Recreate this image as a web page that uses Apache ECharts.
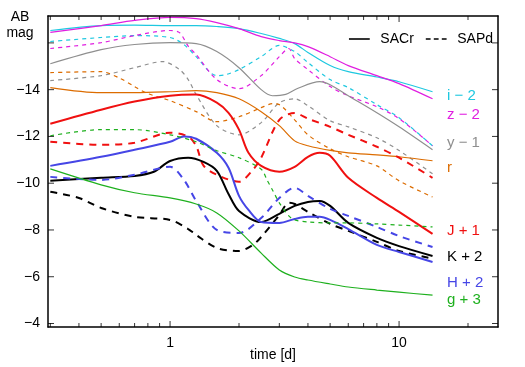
<!DOCTYPE html>
<html>
<head>
<meta charset="utf-8">
<script src="https://cdn.jsdelivr.net/npm/echarts@6/dist/echarts.min.js"></script>
<style>
  html, body { margin: 0; padding: 0; background: #fff; }
  #chart { width: 525px; height: 367px; }
</style>
</head>
<body>
<div id="chart"></div>
<script>
// [time in days, AB mag incl. band offset]
const sacrI = [[0.3,-16.53],[0.5,-16.74],[0.7,-16.76],[1,-16.74],[1.3,-16.74],[1.6,-16.7],[2,-16.61],[2.5,-16.4],[3,-16.19],[3.5,-15.97],[4,-15.59],[5,-15.03],[6,-14.77],[8,-14.54],[10,-14.34],[14,-13.91]]
const sacrZ = [[0.3,-16.45],[0.5,-16.74],[0.7,-16.96],[1,-17.09],[1.3,-17.04],[1.6,-16.87],[2,-16.61],[2.5,-16.27],[3,-16.1],[3.5,-16.0],[4,-15.84],[5,-15.41],[6,-15.03],[8,-14.6],[10,-14.26],[14,-13.61]]
const sacrY = [[0.3,-15.11],[0.5,-15.71],[0.7,-15.93],[1,-16.01],[1.3,-15.97],[1.6,-15.63],[2,-14.94],[2.5,-14.0],[2.8,-13.74],[3.2,-13.8],[3.6,-14.05],[4.5,-14.34],[5,-14.21],[6,-13.74],[8,-13.01],[10,-12.41],[14,-11.43]]
const sacrR = [[0.3,-14.09],[0.5,-13.87],[0.7,-13.87],[1,-13.91],[1.3,-13.96],[1.6,-13.87],[2,-13.61],[2.5,-13.06],[3,-12.46],[3.5,-11.81],[4,-11.6],[5,-11.4],[6,-11.3],[8,-11.21],[10,-11.13],[14,-10.96]]
const sacrJ = [[0.3,-12.54],[0.5,-13.14],[0.7,-13.49],[1,-13.74],[1.3,-13.79],[1.6,-13.45],[1.8,-13.01],[2,-12.29],[2.2,-11.3],[2.5,-10.74],[3,-10.49],[3.5,-10.7],[4,-11.13],[4.5,-11.3],[5,-11.17],[6,-10.23],[8,-9.37],[10,-8.77],[14,-7.83]]
const sacrK = [[0.3,-10.1],[0.5,-10.23],[0.7,-10.31],[0.85,-10.49],[1,-10.95],[1.2,-11.09],[1.4,-10.91],[1.6,-10.53],[1.8,-9.54],[2,-8.81],[2.5,-8.34],[3,-8.69],[3.5,-9.03],[4,-9.2],[4.5,-9.24],[5,-9.03],[6,-8.3],[8,-7.66],[10,-7.31],[14,-6.89]]
const sacrH = [[0.3,-10.74],[0.5,-11.13],[0.7,-11.43],[1,-11.77],[1.15,-12.0],[1.3,-11.9],[1.6,-11.3],[1.8,-10.66],[2,-9.46],[2.2,-8.86],[2.5,-8.34],[3,-8.3],[3.5,-8.47],[4,-8.56],[4.5,-8.56],[5,-8.43],[6,-8.04],[8,-7.36],[10,-7.06],[14,-6.63]]
const sacrG = [[0.3,-10.61],[0.5,-9.93],[0.7,-9.59],[1,-9.37],[1.3,-9.11],[1.6,-8.73],[2,-7.96],[2.5,-7.01],[3,-6.29],[3.5,-5.99],[4,-5.86],[5,-5.69],[6,-5.56],[8,-5.43],[10,-5.34],[14,-5.21]]

const sapdI = [[0.3,-16.06],[0.5,-16.23],[0.7,-16.31],[1,-16.23],[1.15,-15.93],[1.3,-15.41],[1.6,-14.6],[1.75,-14.64],[2,-14.86],[2.5,-15.41],[3,-15.89],[3.5,-15.63],[4,-15.16],[5,-14.43],[6,-14.09],[8,-13.36],[10,-12.8],[14,-11.6]]
const sapdZ = [[0.3,-15.76],[0.5,-16.01],[0.7,-16.31],[1,-16.53],[1.1,-16.44],[1.2,-15.86],[1.3,-15.5],[1.6,-14.43],[2,-14.04],[2.5,-14.6],[3,-15.41],[3.3,-15.76],[3.5,-15.33],[4,-14.86],[5,-14.13],[6,-13.74],[8,-13.27],[10,-12.76],[14,-11.6]]
const sapdY = [[0.3,-14.39],[0.5,-14.6],[0.7,-14.94],[0.93,-15.2],[1.1,-14.86],[1.2,-14.43],[1.3,-13.79],[1.6,-12.46],[2,-12.07],[2.5,-12.59],[3,-13.44],[3.5,-13.61],[4,-13.31],[5,-12.67],[6,-12.41],[8,-11.94],[10,-11.4],[14,-10.4]]
const sapdR = [[0.3,-14.73],[0.5,-14.77],[0.6,-14.5],[0.7,-14.13],[0.8,-13.83],[1,-13.53],[1.3,-13.06],[1.6,-12.63],[2,-12.84],[2.5,-13.23],[2.8,-13.4],[3,-13.36],[3.5,-12.71],[4,-12.07],[5,-11.47],[6,-11.13],[8,-10.74],[10,-10.1],[14,-9.41]]
const sapdJ = [[0.3,-11.77],[0.5,-11.64],[0.7,-11.73],[1,-12.16],[1.2,-11.99],[1.3,-11.6],[1.4,-10.75],[1.6,-10.36],[2,-10.06],[2.3,-10.57],[2.5,-11.09],[3,-12.71],[3.5,-13.0],[4,-12.76],[5,-12.41],[6,-12.07],[8,-11.56],[10,-11.09],[14,-10.23]]
const sapdK = [[0.3,-9.63],[0.4,-9.37],[0.5,-8.94],[0.7,-8.56],[1,-8.43],[1.2,-8.04],[1.3,-7.79],[1.6,-7.23],[2,-7.1],[2.3,-7.36],[2.5,-7.7],[3,-8.64],[3.3,-9.16],[3.5,-9.11],[4,-8.77],[5,-8.26],[6,-7.96],[8,-7.49],[10,-7.1],[14,-6.78]]
const sapdH = [[0.3,-10.27],[0.5,-10.14],[0.7,-10.36],[1,-10.7],[1.15,-10.14],[1.3,-9.24],[1.6,-8.0],[2,-7.87],[2.5,-8.51],[3,-9.37],[3.5,-9.8],[4,-9.46],[5,-8.9],[6,-8.6],[8,-8.13],[10,-7.74],[14,-7.27]]
const sapdG = [[0.3,-12.03],[0.5,-12.29],[0.7,-12.29],[1,-12.07],[1.3,-11.77],[1.6,-11.39],[2,-11.09],[2.5,-10.6],[2.65,-10.14],[2.8,-9.71],[3,-9.16],[3.3,-8.6],[3.5,-8.43],[4,-8.34],[5,-8.3],[6,-8.3],[8,-8.26],[10,-8.21],[14,-8.13]]

const bandLabels = ['i \u2212 2', 'z \u2212 2', 'y \u2212 1', 'r', 'J + 1', 'K + 2', 'H + 2', 'g + 3']
const majorTicks = [1, 10]
const minorTicks = [0.3, 0.4, 0.5, 0.6, 0.7, 0.8, 0.9, 2, 3, 4, 5, 6, 7, 8, 9, 20]
const yTicks = [-16, -14, -12, -10, -8, -6, -4]
const yLabels = [-14, -12, -10, -8, -6, -4]

const font = '"Liberation Sans", Arial, sans-serif'
const xMin = -0.533
const xMax = 1.432
const yMin = -17.15
const yMax = -3.85

const bands = [
  { color: '#1ec8e0', thick: false, sacr: sacrI, sapd: sapdI, labelY: 96 },
  { color: '#e01ee0', thick: false, sacr: sacrZ, sapd: sapdZ, labelY: 115 },
  { color: '#8f8f8f', thick: false, sacr: sacrY, sapd: sapdY, labelY: 143 },
  { color: '#dc6c00', thick: false, sacr: sacrR, sapd: sapdR, labelY: 168 },
  { color: '#f01010', thick: true, sacr: sacrJ, sapd: sapdJ, labelY: 231 },
  { color: '#000000', thick: true, sacr: sacrK, sapd: sapdK, labelY: 257 },
  { color: '#4646e6', thick: true, sacr: sacrH, sapd: sapdH, labelY: 283 },
  { color: '#1eb01e', thick: false, sacr: sacrG, sapd: sapdG, labelY: 300 }
]

const toXY = arr => arr.map(p => [Math.log10(p[0]), p[1]])
const minus = v => String(v).replace('-', '\u2212')

const series = []
bands.forEach((b, i) => {
  series.push({
    name: 'sacr' + i, type: 'line', data: toXY(b.sacr), symbol: 'none', smooth: 0.3, silent: true,
    lineStyle: { color: b.color, width: b.thick ? 2 : 1.2 }
  })
  series.push({
    name: 'sapd' + i, type: 'line', data: toXY(b.sapd), symbol: 'none', smooth: 0.3, silent: true,
    lineStyle: { color: b.color, width: b.thick ? 2 : 1.2, type: b.thick ? [7, 6] : [4, 4] }
  })
})
// legend only
series.push({ name: 'SACr', type: 'line', data: [], symbol: 'none', itemStyle: { color: '#000' } })
series.push({ name: 'SAPd', type: 'line', data: [], symbol: 'none', itemStyle: { color: '#000' } })

// inward ticks on all four sides (gnuplot style), placed through the axes
const tickSeries = (data, size, offset) => ({
  type: 'scatter', data: data, symbol: 'rect', symbolSize: size, symbolOffset: offset,
  itemStyle: { color: '#000' }, silent: true, clip: false, z: 5
})
const xMajor = majorTicks.map(Math.log10)
const xMinor = minorTicks.map(Math.log10)
series.push(tickSeries(xMajor.map(x => [x, yMax]), [1, 6], [0, -3]))
series.push(tickSeries(xMajor.map(x => [x, yMin]), [1, 6], [0, 3]))
series.push(tickSeries(xMinor.map(x => [x, yMax]), [1, 4], [0, -2]))
series.push(tickSeries(xMinor.map(x => [x, yMin]), [1, 4], [0, 2]))
series.push(tickSeries(yTicks.map(y => [xMin, y]), [6, 1], [3, 0]))
series.push(tickSeries(yTicks.map(y => [xMax, y]), [6, 1], [-3, 0]))

const frame = () => ({ show: true, onZero: false, lineStyle: { color: '#000', width: 1.5 } })

const chart = echarts.init(document.getElementById('chart'))
chart.setOption({
  animation: false,
  textStyle: { fontFamily: font },
  grid: { left: 48, right: 27, top: 16, bottom: 40 },
  legend: {
    data: [
      { name: 'SACr', icon: 'path://M0,0h26v2h-26z' },
      { name: 'SAPd', icon: 'path://M0,0h6v2h-6z M10,0h6v2h-6z M20,0h6v2h-6z' }
    ],
    right: 32, top: 32, padding: 0, itemWidth: 24, itemHeight: 1.6, itemGap: 12,
    textStyle: { fontSize: 14, color: '#000', fontFamily: font, padding: [0, 0, 0, 4] }
  },
  xAxis: [
    {
      type: 'value', min: xMin, max: xMax, position: 'bottom',
      axisLine: frame(), splitLine: { show: false }, axisTick: { show: false },
      axisLabel: { customValues: xMajor, formatter: v => String(Math.round(Math.pow(10, v))), color: '#000', fontSize: 14, margin: 9, fontFamily: font },
      name: 'time [d]', nameLocation: 'middle', nameGap: 21, nameMoveOverlap: false,
      nameTextStyle: { fontSize: 14, color: '#000', fontFamily: font }
    },
    {
      type: 'value', min: xMin, max: xMax, position: 'top',
      axisLine: frame(), splitLine: { show: false }, axisLabel: { show: false }, axisTick: { show: false }
    }
  ],
  yAxis: [
    {
      type: 'value', inverse: true, min: yMin, max: yMax, position: 'left',
      axisLine: frame(), splitLine: { show: false }, axisTick: { show: false },
      axisLabel: { customValues: yLabels, formatter: minus, color: '#000', fontSize: 14, margin: 8, fontFamily: font }
    },
    {
      type: 'value', inverse: true, min: yMin, max: yMax, position: 'right',
      axisLine: frame(), splitLine: { show: false }, axisLabel: { show: false }, axisTick: { show: false }
    }
  ],
  graphic: [
    {
      type: 'text', x: 20, y: 9,
      style: { text: 'AB\nmag', align: 'center', verticalAlign: 'top', fill: '#000', font: '14px ' + font, lineHeight: 16 }
    }
  ].concat(bands.map((b, i) => ({
    type: 'text', x: 447, y: b.labelY,
    style: { text: bandLabels[i], align: 'left', verticalAlign: 'middle', fill: b.color, font: '15px ' + font }
  }))),
  series: series
})
</script>
</body>
</html>
